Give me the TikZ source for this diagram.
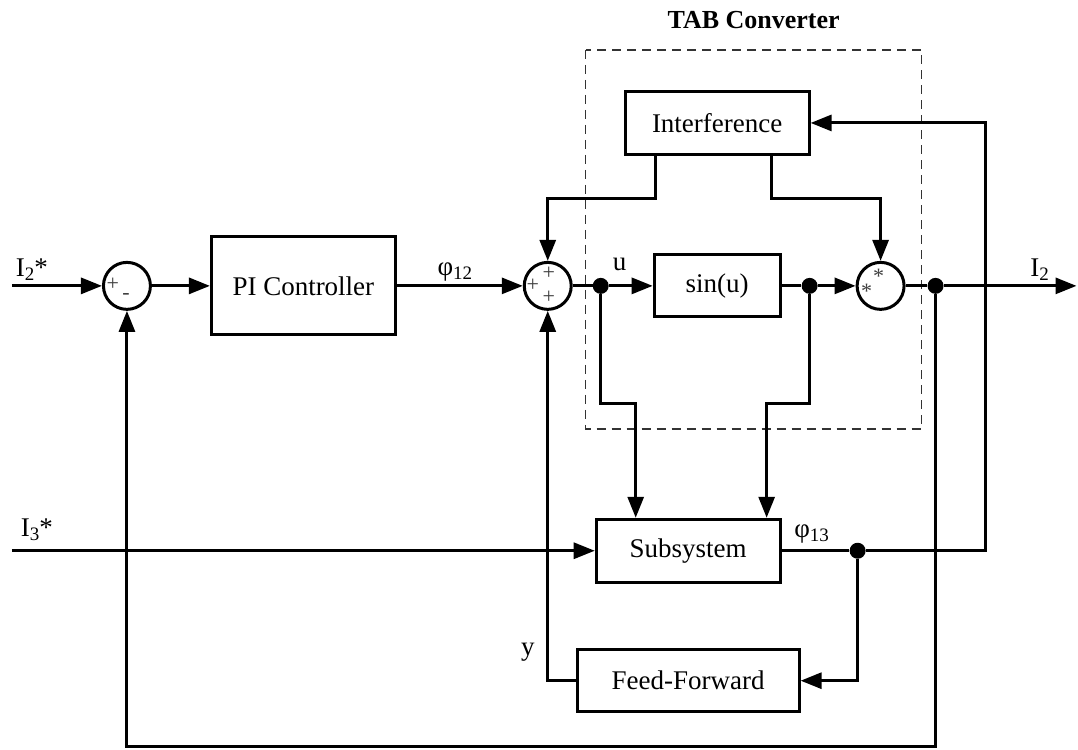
\documentclass[tikz,border=0pt]{standalone}
\usepackage{fontspec}
\setmainfont{Liberation Serif}
\usetikzlibrary{arrows.meta}
% lowered subscript digits, as used in the signal labels
\newcommand\lowsub[1]{\raisebox{-0.35ex}{\fontsize{19bp}{19bp}\selectfont #1}}

\begin{document}
\begin{tikzpicture}[x=1bp,y=-1bp,
  wire/.style={line width=3bp},
  arr/.style={wire,-{Triangle[length=21bp,width=16bp]}},
  blk/.style={draw,line width=3bp,rectangle,inner sep=0,
              font=\fontsize{27bp}{32bp}\selectfont},
  sumnode/.style={draw,circle,line width=3bp,minimum size=47bp,inner sep=0},
  junction/.style={circle,fill,minimum size=16bp,inner sep=0},
  lbl/.style={font=\fontsize{27bp}{32bp}\selectfont,inner sep=0},
  sgn/.style={font=\fontsize{22bp}{22bp}\selectfont,text=black!75,inner sep=0},
  groupbox/.style={draw=black!80,line width=1.5bp,dash pattern=on 9bp off 6bp}]

  % page frame
  \path[fill=white] (0,0) rectangle (1078,750);

  % dashed group around the converter
  \draw[groupbox] (586,50) rectangle (922,429);
  \node[lbl,font=\fontsize{26bp}{30bp}\selectfont\bfseries] (tab) at (754,20) {TAB Converter};

  % blocks
  \node[blk,minimum width=184bp,minimum height=98bp] (pi) at (303.5,286) {PI Controller};
  \node[blk,minimum width=126bp,minimum height=62bp] (sin) at (717.5,286) {sin(u)};
  \node[blk,minimum width=184bp,minimum height=63bp] (intf) at (717.5,123) {Interference};
  \node[blk,minimum width=184bp,minimum height=63bp] (sub) at (688.5,551) {Subsystem};
  \node[blk,minimum width=222bp,minimum height=62bp] (ff) at (688.5,681) {Feed-Forward};

  % summing and product junctions
  \node[sumnode] (sum1) at (127,286) {};
  \node[sgn] (s1a) at (113,284) {+};
  \node[sgn] (s1b) at (126,297) {-};
  \node[sumnode] (sum2) at (548,286) {};
  \node[sgn] (s2a) at (549,273) {+};
  \node[sgn] (s2b) at (533,285) {+};
  \node[sgn] (s2c) at (549,297) {+};
  \node[sumnode] (prod) at (881,286) {};
  \node[sgn] (p1) at (879,276) {*};
  \node[sgn] (p2) at (867,291) {*};

  % branch points
  \node[junction] (dot1) at (601,286) {};
  \node[junction] (dot2) at (810,286) {};
  \node[junction] (dot3) at (936,286) {};
  \node[junction] (dot4) at (858,551) {};

  % routing points
  \coordinate (in2) at (12,286);
  \coordinate (in3) at (12,551);
  \coordinate (out) at (1077,286);
  \coordinate (ia) at (656,199);
  \coordinate (ib) at (772,199);
  \coordinate (ua) at (636,404);
  \coordinate (sa) at (767,404);
  \coordinate (rt) at (986,123);
  \coordinate (fbk) at (0,747);

  % forward path
  \draw[arr] (in2) -- (sum1.west);
  \draw[arr] (sum1.east) -- (pi.west);
  \draw[arr] (pi.east) -- (sum2.west);
  \draw[wire] (sum2.east) -- (dot1);
  \draw[arr] (dot1) -- (sin.west);
  \draw[wire] (sin.east) -- (dot2);
  \draw[arr] (dot2) -- (prod.west);
  \draw[wire] (prod.east) -- (dot3);
  \draw[arr] (dot3) -- (out);

  % interference outputs
  \draw[arr] (intf.south -| ia) -- (ia) -| (sum2.north);
  \draw[arr] (intf.south -| ib) -- (ib) -| (prod.north);

  % inputs of the subsystem
  \draw[arr] (dot1) |- (ua) -- (ua |- sub.north);
  \draw[arr] (dot2) |- (sa) -- (sa |- sub.north);
  \draw[arr] (in3) -- (sub.west);

  % subsystem output back to interference
  \draw[wire] (sub.east) -- (dot4);
  \draw[arr] (dot4) -| (rt) -- (intf.east);

  % feed-forward path
  \draw[arr] (dot4) |- (ff.east);
  \draw[arr] (ff.west) -| (sum2.south);

  % outer feedback loop
  \draw[arr] (dot3) |- (fbk -| sum1) -- (sum1.south);

  % signal labels
  \node[lbl] (l2s) at (32,270) {I\lowsub{2}*};
  \node[lbl] (l3s) at (37,530) {I\lowsub{3}*};
  \node[lbl] (lphi12) at (455,272) {φ\lowsub{12}};
  \node[lbl] (lu) at (620,265) {u};
  \node[lbl] (li2) at (1040,270) {I\lowsub{2}};
  \node[lbl] (lphi13) at (812,534) {φ\lowsub{13}};
  \node[lbl] (ly) at (528,653) {y};
\end{tikzpicture}
\end{document}
